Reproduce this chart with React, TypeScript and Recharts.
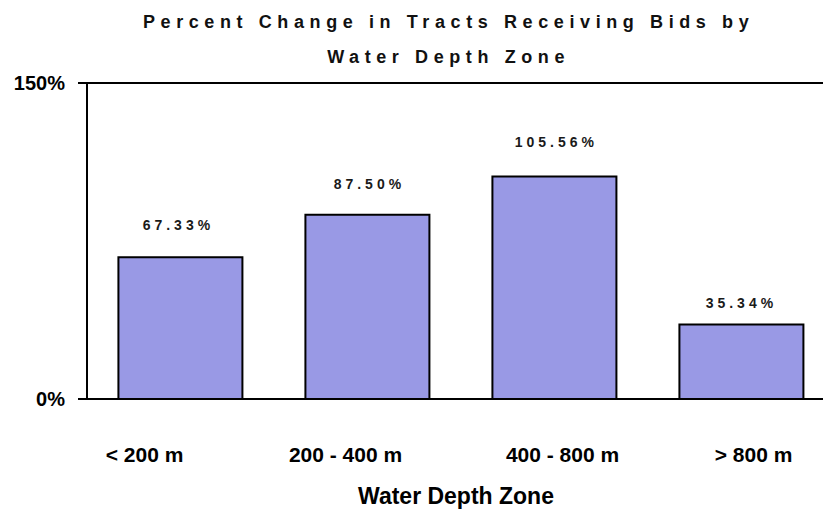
import React from 'react';
import { Bar, BarChart, LabelList, ReferenceLine, XAxis, YAxis } from 'recharts';

const zones = ['< 200 m', '200 - 400 m', '400 - 800 m', '> 800 m'];
const percentChange = [67.33, 87.5, 105.56, 35.34];
const yTicks = [0, 150];

const chartData = zones.map((zone, i) => ({ zone, value: percentChange[i] }));

const FONT = '"Liberation Sans", Arial, sans-serif';

// tick labels in the original sit a little off the bar centres
const tickShift = [-36, -22, 8, 12];
const labelShift = [
  { dx: -4, dy: 27 },
  { dx: 0, dy: 26 },
  { dx: 0, dy: 30 },
  { dx: -2, dy: 17 },
];

const ZoneTick = (props: any) => {
  const { x, y, payload, index } = props;
  return (
    <text
      x={x + (tickShift[index] || 0)}
      y={y}
      dy={55}
      textAnchor="middle"
      fontFamily={FONT}
      fontWeight="bold"
      fontSize={21}
      fill="#000"
    >
      {payload.value}
    </text>
  );
};

const ValueLabel = (props: any) => {
  const { x, y, width, value, index } = props;
  const s = labelShift[index] || { dx: 0, dy: 25 };
  return (
    <text
      x={x + width / 2 + s.dx + 2}
      y={y - s.dy}
      textAnchor="middle"
      fontFamily={FONT}
      fontWeight="bold"
      fontSize={14}
      letterSpacing={4}
      fill="#1a1a1a"
    >
      {value.toFixed(2)}%
    </text>
  );
};

const titleStyle: React.CSSProperties = {
  position: 'absolute',
  left: 0,
  width: 886,
  textAlign: 'center',
  fontFamily: FONT,
  fontWeight: 'bold',
  fontSize: 18,
  lineHeight: '18px',
  letterSpacing: 5.6,
  paddingLeft: 5.6,
  color: '#111',
  whiteSpace: 'nowrap',
};

const App: React.FC = () => {
  return (
    <div
      style={{
        position: 'absolute',
        left: 0,
        top: 0,
        width: 823,
        height: 517,
        overflow: 'hidden',
        background: '#fff',
      }}
    >
      <div style={{ ...titleStyle, top: 13 }}>Percent Change in Tracts Receiving Bids by</div>
      <div style={{ ...titleStyle, top: 48 }}>Water Depth Zone</div>
      <div style={{ position: 'absolute', top: 0, left: 0 }}>
        <BarChart
          width={840}
          height={517}
          data={chartData}
          margin={{ top: 83, right: 5, bottom: 0, left: 0 }}
          barCategoryGap="16.8%"
        >
          <XAxis
            dataKey="zone"
            height={118}
            axisLine={{ stroke: '#000', strokeWidth: 2 }}
            tickLine={false}
            tick={<ZoneTick />}
            interval={0}
          />
          <YAxis
            width={87}
            domain={[0, 150]}
            ticks={yTicks}
            tickFormatter={(v: number) => `${v}%`}
            axisLine={{ stroke: '#000', strokeWidth: 2 }}
            tickLine={{ stroke: '#000', strokeWidth: 2 }}
            tickSize={9}
            tickMargin={13}
            tick={{ fill: '#000', fontFamily: FONT, fontWeight: 'bold', fontSize: 20 }}
          />
          <ReferenceLine y={150} stroke="#000" strokeWidth={2} />
          <Bar
            dataKey="value"
            fill="#9999E5"
            stroke="#000"
            strokeWidth={2}
            isAnimationActive={false}
          >
            <LabelList dataKey="value" content={<ValueLabel />} />
          </Bar>
        </BarChart>
      </div>
      <div
        style={{
          position: 'absolute',
          left: 0,
          width: 912,
          top: 485,
          textAlign: 'center',
          fontFamily: FONT,
          fontWeight: 'bold',
          fontSize: 23,
          lineHeight: '23px',
          color: '#000',
          whiteSpace: 'nowrap',
        }}
      >
        Water Depth Zone
      </div>
    </div>
  );
};

export default App;
